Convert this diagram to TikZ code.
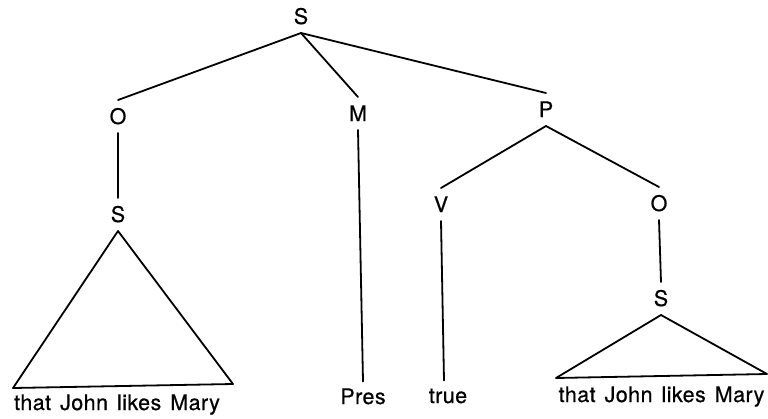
\documentclass[tikz,border=0pt]{standalone}
\usepackage{fontspec}
\setmainfont{TeX Gyre Heros}
\newfontfamily\treefont[LetterSpace=2,FakeBold=0.6]{TeX Gyre Heros}
\newcommand\wordsp{\spaceskip=9pt\relax}
\begin{document}
\begin{tikzpicture}[x=1pt,y=-1pt,
  lab/.style={font=\treefont\fontsize{21.5}{24}\selectfont, inner xsep=2pt, inner ysep=9pt, text height=15pt, text depth=0pt, outer sep=0pt},
  leaf/.style={font=\treefont\fontsize{21.5}{24}\selectfont, inner xsep=0pt, inner ysep=7pt, text height=15.5pt, text depth=5pt, outer sep=0pt},
  edge/.style={line width=1.8pt, line cap=round, line join=round}]
\useasboundingbox (0,0) rectangle (768,418);
% labels
\node[lab, anchor=south] (S0) at (301,33) {S};
\node[lab, anchor=north] (O1) at (118,100) {O};
\node[lab, anchor=north] (M) at (358,97) {M};
\node[lab, anchor=north] (P) at (546,93) {P};
\node[lab, anchor=north] (S1) at (118,198) {S};
\node[lab, anchor=north] (V) at (441,188) {V};
\node[lab, anchor=north] (O2) at (659,187) {O};
\node[lab, anchor=north] (S2) at (661,282) {S};
% leaves
\node[leaf, anchor=base] (Pres) at (363,404) {Pres};
\node[leaf, anchor=base] (true) at (448,403) {true};
\node[leaf, anchor=base] (T1) at (117,410) {\wordsp that John likes Mary};
\node[leaf, anchor=base] (T2) at (661.5,402) {\wordsp that John likes Mary};
% triangle corners
\coordinate (L1a) at (13,388);
\coordinate (L1b) at (233,384);
\coordinate (L2a) at (556,378);
\coordinate (L2b) at (767,374);
% edges
\draw[edge] (S0.south) -- (O1.north);
\draw[edge] (S0.south) -- (M.north);
\draw[edge] (S0.south) -- (P.north);
\draw[edge] (O1.south) -- (S1.north);
\draw[edge] (M.south) -- (Pres.north);
\draw[edge] (P.south) -- (V.north);
\draw[edge] (P.south) -- (O2.north);
\draw[edge] (V.south) -- ([xshift=-4pt]true.north);
\draw[edge] (O2.south) -- (S2.north);
\draw[edge] (S1.south) -- (L1a) -- (L1b) -- cycle;
\draw[edge] (S2.south) -- (L2a) -- (L2b) -- cycle;
\end{tikzpicture}
\end{document}
